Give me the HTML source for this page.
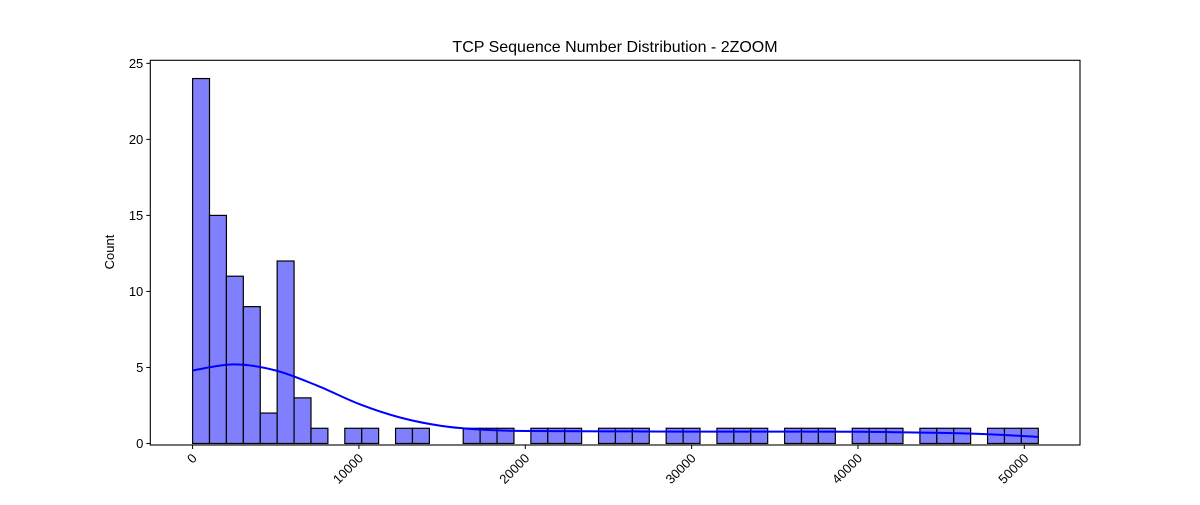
<!DOCTYPE html>
<html><head><meta charset="utf-8"><style>
body{margin:0;background:#fff;}
svg text{font-family:"Liberation Sans","DejaVu Sans",sans-serif;fill:#000;}
</style></head><body>
<svg id="chart" width="1200" height="500" xmlns="http://www.w3.org/2000/svg">
<rect width="1200" height="500" fill="#fff"/>
<text x="615" y="52" font-size="16" text-anchor="middle">TCP Sequence Number Distribution - 2ZOOM</text>
<text transform="translate(114,252) rotate(-90)" font-size="13" text-anchor="middle">Count</text>
<g id="bars"></g>
<g id="kde"></g>
<g id="axes"></g>
</svg>
<script>
const counts=[24,15,11,9,2,12,3,1,0,1,1,0,1,1,0,0,1,1,1,0,1,1,1,0,1,1,1,0,1,1,0,1,1,1,0,1,1,1,0,1,1,1,0,1,1,1,0,1,1,1];
const binStart=0;
const binEnd=50840;
const kdeX=[0,2500,5000,7500,10000,12500,15000,17500,20000,25000,30000,35000,40000,45000,48000,50840];
const kdeY=[4.8,5.2,4.8,3.8,2.6,1.7,1.15,0.9,0.82,0.8,0.78,0.78,0.77,0.7,0.6,0.43];
const xTicks=[0,10000,20000,30000,40000,50000];
const yTicks=[0,5,10,15,20,25];

const L=150.3,R=1080,T=60.3,B=445;
const xMin=-2542,xMax=53347,yMin=-0.1,yMax=25.2;
const sx=v=>L+(v-xMin)/(xMax-xMin)*(R-L);
const sy=v=>B-(v-yMin)/(yMax-yMin)*(B-T);
const NS="http://www.w3.org/2000/svg";
function mk(tag,attrs,parent){const e=document.createElementNS(NS,tag);for(const k in attrs)e.setAttribute(k,attrs[k]);parent.appendChild(e);return e;}

const bars=document.getElementById('bars');
const bw=(binEnd-binStart)/counts.length;
counts.forEach((c,i)=>{
  if(c<=0)return;
  const x0=sx(binStart+i*bw),x1=sx(binStart+(i+1)*bw);
  const r=mk('rect',{x:x0,y:sy(c),width:x1-x0,height:sy(0)-sy(c),fill:'#8080ff',stroke:'#000','stroke-width':1.2},bars);
  
  
});

const kde=document.getElementById('kde');
const pts=kdeX.map((x,i)=>[sx(x),sy(kdeY[i])]);
let d='M'+pts[0][0]+','+pts[0][1];
for(let i=0;i<pts.length-1;i++){
  const p0=pts[Math.max(0,i-1)],p1=pts[i],p2=pts[i+1],p3=pts[Math.min(pts.length-1,i+2)];
  const c1=[p1[0]+(p2[0]-p0[0])/6,p1[1]+(p2[1]-p0[1])/6];
  const c2=[p2[0]-(p3[0]-p1[0])/6,p2[1]-(p3[1]-p1[1])/6];
  d+=' C'+c1+' '+c2+' '+p2;
}
const kp=mk('path',{d:d,fill:'none',stroke:'#0000ff','stroke-width':2},kde);



const ax=document.getElementById('axes');
const frame=mk('rect',{x:L,y:T,width:R-L,height:B-T,fill:'none',stroke:'#000','stroke-width':1.1},ax);


xTicks.forEach(v=>{
  const x=sx(v);
  mk('line',{x1:x,x2:x,y1:B,y2:B+4,stroke:'#000'},ax);
  const t=mk('text',{x:0,y:0,'font-size':13,'text-anchor':'end',transform:`translate(${x+5},${B+14}) rotate(-45)`},ax);
  t.textContent=v;
  
  
});
yTicks.forEach(v=>{
  const y=sy(v);
  mk('line',{x1:L-4,x2:L,y1:y,y2:y,stroke:'#000'},ax);
  const t=mk('text',{x:L-7,y:y+4.5,'font-size':13,'text-anchor':'end'},ax);
  t.textContent=v;
  
  
});
</script>
</body></html>
